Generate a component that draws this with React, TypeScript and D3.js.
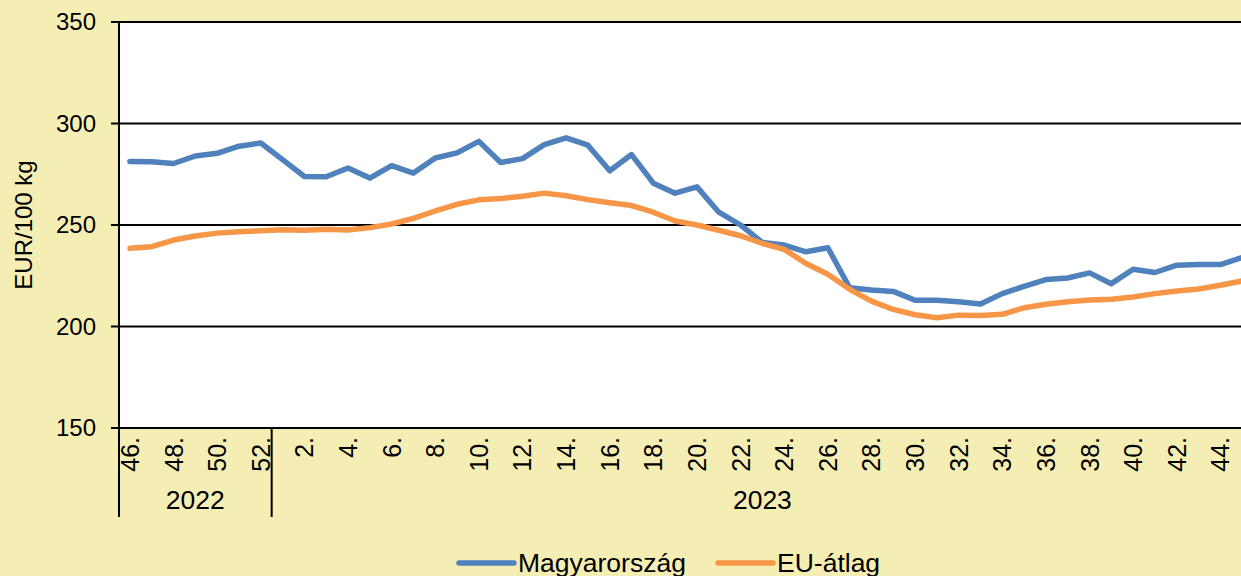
import React from 'react';
import * as d3 from 'd3';

// weeks shown on the category axis
const weeks2022 = [46, 47, 48, 49, 50, 51, 52];
const weeks2023 = [
    1, 2, 3, 4, 5, 6, 7, 8, 9, 10, 11, 12, 13, 14, 15, 16, 17, 18, 19, 20, 21, 22, 23,
    24, 25, 26, 27, 28, 29, 30, 31, 32, 33, 34, 35, 36, 37, 38, 39, 40, 41, 42, 43, 44, 45,
];

// EUR/100 kg
const hungary = [
    281.3, 281.2, 280.3, 284.0, 285.3, 288.8, 290.4,
    282.2, 273.9, 273.8, 278.1, 273.1, 279.2, 275.6, 283.0, 285.5, 291.2, 280.8, 282.7,
    289.6, 292.9, 289.3, 276.7, 284.7, 270.6, 265.7, 268.8, 256.3, 250.0, 241.4, 240.1,
    236.8, 238.8, 219.1, 218.0, 217.3, 212.9, 212.9, 212.2, 211.1, 216.2, 219.8, 223.1,
    223.9, 226.4, 221.1, 228.2, 226.6, 230.2, 230.5, 230.5, 234.0,
];
const euAverage = [
    238.5, 239.3, 242.6, 244.6, 246.0, 246.7, 247.2,
    247.7, 247.4, 247.9, 247.5, 248.7, 250.5, 253.3, 256.9, 260.2, 262.4, 263.0, 264.2,
    265.7, 264.4, 262.5, 261.0, 259.6, 256.3, 252.0, 250.0, 247.4, 244.7, 240.9, 238.0,
    231.0, 225.7, 218.3, 212.5, 208.4, 205.8, 204.3, 205.6, 205.4, 206.0, 209.2, 211.0,
    212.2, 213.0, 213.4, 214.5, 216.2, 217.5, 218.5, 220.3, 222.5,
];
const yTicks = [150, 200, 250, 300, 350];
const years = ['2022', '2023'];
const seriesNames = ['Magyarország', 'EU-átlag'];

const FONT = 'Liberation Sans, Arial, sans-serif';
const COLORS = ['#4F81BD', '#F79646'];

const App: React.FC = () => {
    const width = 1241;
    const height = 576;
    const left = 119;
    const top = 22;
    const bottom = 428;
    const step = 21.81;

    const keys = [
        ...weeks2022.map(w => `2022-${w}`),
        ...weeks2023.map(w => `2023-${w}`),
    ];
    const labels = [...weeks2022, ...weeks2023];

    const x = d3.scaleBand<string>()
        .domain(keys)
        .range([left, left + step * keys.length])
        .padding(0);
    const y = d3.scaleLinear().domain([150, 350]).range([bottom, top]);
    const cx = (k: string) => (x(k) ?? 0) + x.bandwidth() / 2;

    const line = d3.line<number>()
        .x((_, i) => cx(keys[i]))
        .y(d => y(d));

    const divider = x(`2023-1`) ?? 0;
    const plotRight = left + step * keys.length;

    return (
        <svg width={width} height={height} style={{ position: 'absolute', left: 0, top: 0 }} fontFamily={FONT}>
            <rect x={0} y={0} width={width} height={height} fill="#F5EEB4" />
            <rect x={left} y={top} width={plotRight - left} height={bottom - top} fill="#FFFFFF" />

            {/* gridlines + y ticks */}
            {yTicks.map(t => (
                <g key={t}>
                    <line x1={111} x2={plotRight} y1={y(t)} y2={y(t)} stroke="#000" strokeWidth={2} />
                    <text x={96} y={y(t)} dy="0.35em" textAnchor="end" fontSize={24} fill="#000">{t}</text>
                </g>
            ))}

            {/* axis lines */}
            <line x1={left} x2={left} y1={top} y2={517} stroke="#000" strokeWidth={2} />
            <line x1={divider} x2={divider} y1={bottom} y2={517} stroke="#000" strokeWidth={2} />

            {/* x labels, every second week */}
            {keys.map((k, i) => (i % 2 === 0 ? (
                <text
                    key={k}
                    transform={`translate(${cx(k)},437) rotate(-90)`}
                    textAnchor="end"
                    dominantBaseline="central"
                    fontSize={25}
                    fill="#000"
                >
                    {labels[i]}.
                </text>
            ) : null))}

            <text x={(left + divider) / 2} y={509} textAnchor="middle" fontSize={26.5} fill="#000">{years[0]}</text>
            <text x={(divider + plotRight) / 2} y={509} textAnchor="middle" fontSize={26.5} fill="#000">{years[1]}</text>

            {/* y axis title */}
            <text transform="translate(32,225) rotate(-90)" textAnchor="middle" fontSize={24} fill="#000">EUR/100 kg</text>

            {/* series */}
            {[hungary, euAverage].map((s, i) => (
                <path
                    key={i}
                    d={line(s) || undefined}
                    fill="none"
                    stroke={COLORS[i]}
                    strokeWidth={5.5}
                    strokeLinejoin="round"
                    strokeLinecap="round"
                />
            ))}

            {/* legend */}
            {seriesNames.map((name, i) => {
                const lx = i === 0 ? 459 : 718;
                return (
                    <g key={name}>
                        <line x1={lx} x2={lx + 55} y1={563} y2={563} stroke={COLORS[i]} strokeWidth={5.5} strokeLinecap="round" />
                        <text x={lx + 59} y={572} fontSize={26.5} fill="#000">{name}</text>
                    </g>
                );
            })}
        </svg>
    );
};

export default App;
